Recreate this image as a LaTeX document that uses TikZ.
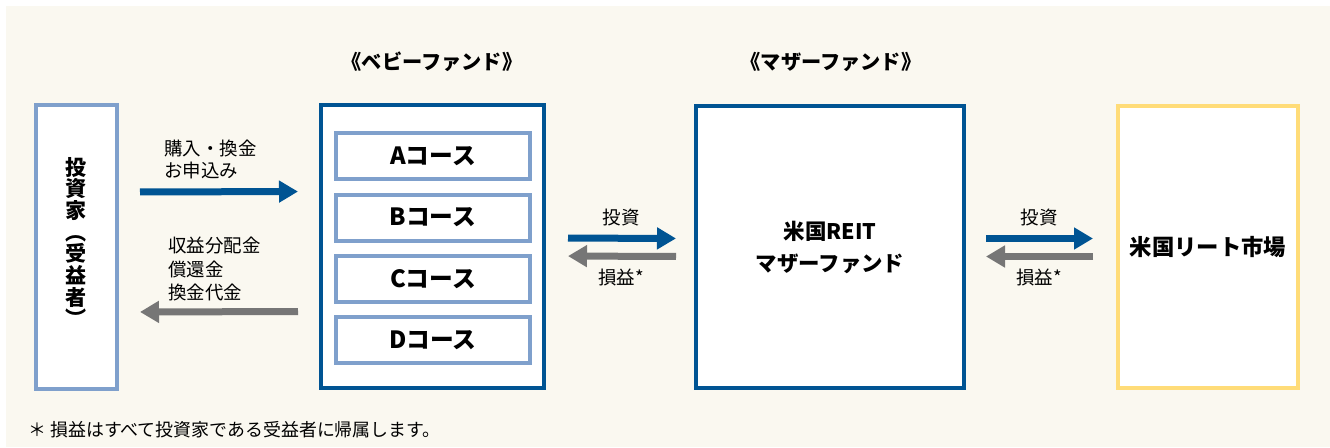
\documentclass[tikz,border=0pt]{standalone}
\usepackage{fontspec}
\setmainfont{Noto Sans CJK JP}
\usetikzlibrary{arrows.meta}
\definecolor{fundblue}{HTML}{005493}
\definecolor{courseblue}{HTML}{7FA0CC}
\definecolor{arrowgray}{HTML}{767676}
\definecolor{marketyellow}{HTML}{FFDC78}
\definecolor{cream}{HTML}{FAF8F0}

\begin{document}
\begin{tikzpicture}[
	box/.style={draw, fill=white, line width=0.08cm, inner sep=0pt},
	coursebox/.style={box, draw=courseblue, minimum width=3.88cm, minimum height=0.92cm, font=\bfseries\fontsize{13.5}{15}\selectfont},
	bluearrow/.style={draw=fundblue, line width=0.14cm, -{Triangle[length=0.38cm, width=0.42cm]}},
	grayarrow/.style={draw=arrowgray, line width=0.14cm, -{Triangle[length=0.38cm, width=0.42cm]}},
	title/.style={font=\bfseries\fontsize{11.5}{13}\selectfont},
	lbl/.style={font=\fontsize{10.5}{13}\selectfont, inner sep=0pt}
	]
	%background
	\useasboundingbox (0,0) rectangle (26.6,-8.94);
	\fill[cream] (0.12,-0.12) rectangle (26.6,-8.94);
	
	%boxes
	\node[box, draw=courseblue, minimum width=1.62cm, minimum height=5.68cm] (inv) at (1.53,-4.94) {};
	\node[box, draw=fundblue, minimum width=4.46cm, minimum height=5.66cm] (baby) at (8.65,-4.93) {};
	\node[box, draw=fundblue, minimum width=5.36cm, minimum height=5.64cm, align=center,
		font=\bfseries\fontsize{12.2}{18.2}\selectfont] (mother) at (16.6,-4.94) {米国REIT\\マザーファンド};
	\node[box, draw=marketyellow, minimum width=3.6cm, minimum height=5.64cm,
		font=\bfseries\fontsize{12.7}{15}\selectfont] (market) at (24.16,-4.94) {米国リート市場};
	
	%courses
	\node[coursebox] (courseA) at (8.66,-3.12) {Aコース};
	\node[coursebox] (courseB) at (8.66,-4.35) {Bコース};
	\node[coursebox] (courseC) at (8.66,-5.58) {Cコース};
	\node[coursebox] (courseD) at (8.66,-6.80) {Dコース};
	
	%titles
	\node[title] (babytitle) at (8.64,-1.24) {《ベビーファンド》};
	\node[title] (mothertitle) at (16.62,-1.24) {《マザーファンド》};
	
	%investor label
	\node[align=center, inner sep=0pt, font=\bfseries\fontsize{12}{12.3}\selectfont] (invlbl) at ([yshift=0.1cm]inv.center)
		{投\\資\\家\\︵\\受\\益\\者\\︶};
	
	%arrows
	\draw[bluearrow, shorten <=0.42cm, shorten >=0.42cm] ([yshift=1.1cm]inv.east) -- ([yshift=1.1cm]baby.west);
	\draw[grayarrow, shorten <=0.42cm, shorten >=0.42cm] ([yshift=-1.3cm]baby.west) -- ([yshift=-1.3cm]inv.east);
	\draw[bluearrow, shorten <=0.44cm, shorten >=0.36cm] ([yshift=0.17cm]baby.east) -- ([yshift=0.17cm]mother.west);
	\draw[grayarrow, shorten <=0.36cm, shorten >=0.44cm] ([yshift=-0.19cm]mother.west) -- ([yshift=-0.19cm]baby.east);
	\draw[bluearrow, shorten <=0.40cm, shorten >=0.46cm] ([yshift=0.17cm]mother.east) -- ([yshift=0.17cm]market.west);
	\draw[grayarrow, shorten <=0.46cm, shorten >=0.40cm] ([yshift=-0.19cm]market.west) -- ([yshift=-0.19cm]mother.east);
	
	%arrow labels
	\node[lbl, anchor=west, align=left, font=\fontsize{10.5}{13}\selectfont] (buylbl) at (3.28,-3.19) {購入・換金\\お申込み};
	\node[lbl, anchor=west, align=left, font=\fontsize{10.5}{13.6}\selectfont] (paylbl) at (3.36,-5.38) {収益分配金\\償還金\\換金代金};
	\node[lbl] (invest1) at (12.42,-4.36) {投資};
	\node[lbl] (gain1) at (12.42,-5.54) {損益*};
	\node[lbl] (invest2) at (20.78,-4.36) {投資};
	\node[lbl] (gain2) at (20.78,-5.54) {損益*};
	
	%note
	\node[lbl, anchor=west, font=\fontsize{10.2}{12}\selectfont] (note) at (0.56,-8.6) {＊ 損益はすべて投資家である受益者に帰属します。};
\end{tikzpicture}
\end{document}
